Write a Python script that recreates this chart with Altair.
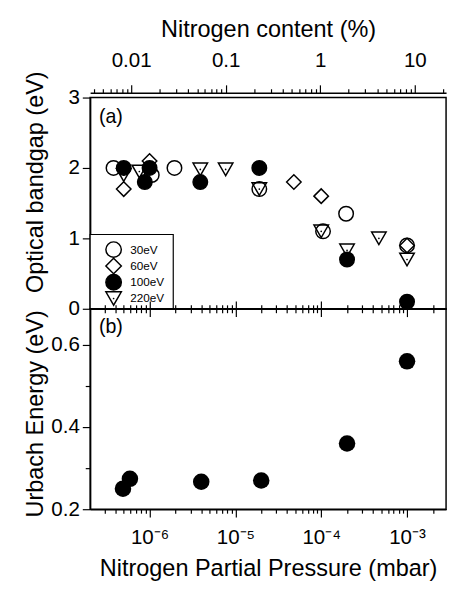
import altair as alt
import pandas as pd

FONT = "Liberation Sans"

# ---- data ----
series = ["30eV", "60eV", "100eV", "220eV"]

# panel (a): optical bandgap (eV) vs nitrogen partial pressure (mbar)
p30 = [3.8e-7, 1.06e-6, 1.95e-6, 1.9e-5, 1.05e-4, 1.95e-4, 1.0e-3]
g30 = [2.0, 1.9, 2.0, 1.7, 1.1, 1.35, 0.9]
p60 = [5.0e-7, 1.0e-6, 4.8e-5, 1.0e-4, 1.0e-3]
g60 = [1.7, 2.1, 1.8, 1.6, 0.9]
p100 = [5.0e-7, 8.8e-7, 1.0e-6, 3.9e-6, 1.9e-5, 2.0e-4, 1.0e-3]
g100 = [2.0, 1.8, 2.0, 1.8, 2.0, 0.7, 0.1]
p220 = [5.0e-7, 7.6e-7, 3.9e-6, 7.7e-6, 1.9e-5, 1.0e-4, 2.0e-4, 4.7e-4, 1.0e-3]
g220 = [1.9, 1.95, 1.98, 1.98, 1.7, 1.1, 0.83, 1.0, 0.7]

# panel (b): Urbach energy (eV)
pu = [4.9e-7, 5.9e-7, 4.0e-6, 2.0e-5, 2.0e-4, 1.0e-3]
eu = [0.25, 0.274, 0.267, 0.27, 0.36, 0.56]

# tick labels
pressure_major = [1e-6, 1e-5, 1e-4, 1e-3]
pressure_labels = ["10⁻⁶", "10⁻⁵", "10⁻⁴", "10⁻³"]
content_major = [0.01, 0.1, 1, 10]
content_labels = ["0.01", "0.1", "1", "10"]
gap_ticks = [0, 0.5, 1, 1.5, 2, 2.5, 3]
urbach_ticks = [0.2, 0.3, 0.4, 0.5, 0.6]

x_dom = [2.03e-7, 2.85e-3]
c_dom = [0.00368, 21.4]


def log_ticks(lo, hi):
    out = []
    for k in range(-8, 3):
        for m in range(1, 10):
            v = float(f"{m}e{k}")
            if lo <= v <= hi:
                out.append(v)
    return out


def label_expr(majors, labels):
    parts = [f"abs(datum.value/{v!r} - 1) < 1e-6 ? '{l}'" for v, l in zip(majors, labels)]
    return " : ".join(parts) + " : ''"


is_major_log = "abs(log(datum.value)/LN10 - round(log(datum.value)/LN10)) < 0.001"
tick_log = {"condition": {"test": is_major_log, "value": 8}, "value": 4}

p_ticks = log_ticks(*x_dom)
c_ticks = log_ticks(*c_dom)

rows = []
for s, ps, gs in [("30eV", p30, g30), ("60eV", p60, g60), ("220eV", p220, g220), ("100eV", p100, g100)]:
    for p, g in zip(ps, gs):
        rows.append({"p": p, "g": g, "s": s})
df_a = pd.DataFrame(rows)
df_220 = pd.DataFrame({"p": p220, "g": g220})
df_b = pd.DataFrame({"p": pu, "e": eu})
df_leg = pd.DataFrame({"s": series})

xscale = alt.Scale(type="log", domain=x_dom, nice=False)
shape_scale = alt.Scale(domain=series, range=["circle", "diamond", "circle", "triangle-down"])
fill_scale = alt.Scale(domain=series, range=["transparent", "transparent", "black", "transparent"])

points_a = alt.Chart(df_a).mark_point(color="black", stroke="black", strokeWidth=1.5, opacity=1, size=220).encode(
    x=alt.X("p:Q", scale=xscale,
            axis=alt.Axis(orient="bottom", values=p_ticks, labels=False, title=None, tickSize=tick_log)),
    y=alt.Y("g:Q", scale=alt.Scale(domain=[0, 3], nice=False),
            axis=alt.Axis(values=gap_ticks, labelExpr="datum.value % 1 == 0 ? format(datum.value, 'd') : ''",
                          tickSize={"condition": {"test": "datum.value % 1 == 0", "value": 8}, "value": 5},
                          title="Optical bandgap (eV)", titleX=-44, titleY=86, labelPadding=3)),
    shape=alt.Shape("s:N", scale=shape_scale, legend=None),
    fill=alt.Fill("s:N", scale=fill_scale, legend=None),
)

dots_a = alt.Chart(df_220).mark_point(filled=True, size=3, color="black", opacity=1).encode(
    x="p:Q", y="g:Q"
)

text_a = alt.Chart(pd.DataFrame({"t": ["(a)"]})).mark_text(
    align="left", baseline="middle", fontSize=20, font=FONT, color="black"
).encode(text="t:N", x=alt.value(9), y=alt.value(20))

# legend box drawn inside panel (a)
leg_y = alt.Y("s:N", scale=alt.Scale(type="point", domain=series, range=[155.5, 205.5], padding=0), axis=None)
leg_box = alt.Chart(pd.DataFrame({"k": [0]})).mark_rect(
    fill="white", stroke="black", strokeWidth=1.2
).encode(x=alt.value(0), x2=alt.value(85), y=alt.value(140), y2=alt.value(216.5))
leg_sym = alt.Chart(df_leg).mark_point(color="black", stroke="black", strokeWidth=1.5, opacity=1, size=250).encode(
    x=alt.value(24), y=leg_y,
    shape=alt.Shape("s:N", scale=shape_scale, legend=None),
    fill=alt.Fill("s:N", scale=fill_scale, legend=None),
)
leg_dot = alt.Chart(df_leg[df_leg["s"] == series[3]]).mark_point(
    filled=True, size=3, color="black", opacity=1
).encode(x=alt.value(24), y=leg_y)
leg_txt = alt.Chart(df_leg).mark_text(
    align="left", baseline="middle", fontSize=12, font=FONT, color="black"
).encode(x=alt.value(41), y=leg_y, text="s:N")
legend_layer = alt.layer(leg_box, leg_sym, leg_dot, leg_txt)

content_layer = alt.Chart(pd.DataFrame({"c": content_major})).mark_point(opacity=0).encode(
    x=alt.X("c:Q", scale=alt.Scale(type="log", domain=c_dom, nice=False),
            axis=alt.Axis(orient="top", values=c_ticks, labelExpr=label_expr(content_major, content_labels),
                          title="Nitrogen content (%)", offset=5, tickSize=tick_log,
                          labelPadding=15, titlePadding=8))
)

top = alt.layer(alt.layer(points_a, dots_a, text_a), content_layer, legend_layer).resolve_scale(
    x="independent", y="independent").properties(width=364, height=216)

points_b = alt.Chart(df_b).mark_circle(color="black", size=285, opacity=1).encode(
    x=alt.X("p:Q", scale=xscale,
            axis=alt.Axis(orient="bottom", values=p_ticks, labelExpr=label_expr(pressure_major, pressure_labels),
                          title="Nitrogen Partial Pressure (mbar)", tickSize=tick_log,
                          labelPadding=10, titlePadding=10)),
    y=alt.Y("e:Q", scale=alt.Scale(domain=[0.2, 0.688], nice=False),
            axis=alt.Axis(values=urbach_ticks,
                          labelExpr="round(datum.value*10) % 2 == 0 ? format(datum.value, '.1f') : ''",
                          tickSize={"condition": {"test": "round(datum.value*10) % 2 == 0", "value": 8}, "value": 5},
                          title="Urbach Energy (eV)", titleX=-44, titleY=107, labelPadding=3)),
)

ticks_b = alt.Chart(df_b).mark_point(opacity=0).encode(
    x=alt.X("p:Q", scale=xscale,
            axis=alt.Axis(orient="top", values=p_ticks, labels=False, title=None, tickSize=tick_log)),
    y="e:Q",
)

text_b = alt.Chart(pd.DataFrame({"t": ["(b)"]})).mark_text(
    align="left", baseline="middle", fontSize=20, font=FONT, color="black"
).encode(text="t:N", x=alt.value(9), y=alt.value(19))

bottom = alt.layer(points_b, ticks_b, text_b).resolve_axis(x="independent").properties(width=364, height=205)

chart = alt.vconcat(top, bottom, spacing=0, bounds="flush").properties(
    padding={"left": 15, "top": 3, "right": 2, "bottom": 2}
).configure_view(
    stroke="black", strokeWidth=1.5
).configure_axis(
    domainColor="black", domainWidth=1.5, tickColor="black", tickWidth=1.2,
    labelFont=FONT, labelFontSize=21, labelColor="black",
    titleFont=FONT, titleFontSize=24, titleFontWeight="normal", titleColor="black",
    grid=False,
)

chart.save("out.html", embed_options={"renderer": "svg", "actions": False})
